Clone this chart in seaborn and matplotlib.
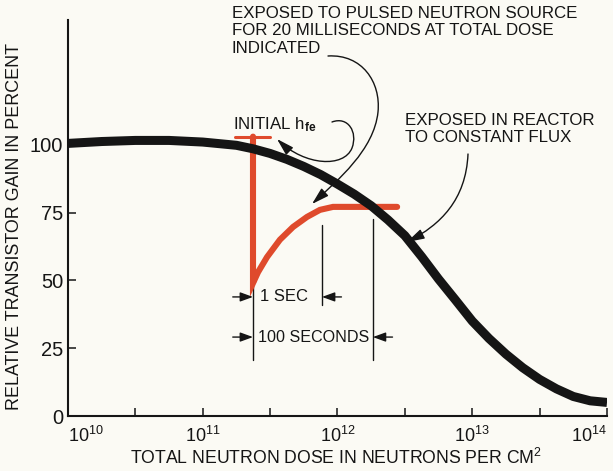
import numpy as np
import pandas as pd
import seaborn as sns
import matplotlib
matplotlib.use("Agg")
import matplotlib.pyplot as plt
from matplotlib.path import Path
from matplotlib.patches import FancyArrowPatch, ArrowStyle

# Gain of a transistor exposed to a constant reactor flux
reactor_dose = [1.0e10, 1.78e10, 3.16e10, 5.62e10, 1.0e11, 1.78e11, 2.37e11, 3.16e11,
                4.22e11, 5.62e11, 7.50e11, 1.0e12, 1.33e12, 1.78e12, 2.37e12, 3.16e12,
                4.22e12, 5.62e12, 7.50e12, 1.0e13, 1.33e13, 1.78e13, 2.37e13, 3.16e13,
                4.22e13, 5.62e13, 7.50e13, 1.0e14]
reactor_gain = [100.5, 101.2, 101.6, 101.6, 101.0, 99.8, 98.5, 96.8,
                94.6, 92.0, 89.0, 85.5, 81.8, 77.5, 72.3, 66.5,
                58.7, 50.5, 42.8, 35.0, 28.6, 22.8, 17.8, 13.5,
                10.0, 7.2, 5.6, 5.0]

# Gain after a 20 ms neutron pulse: drop and recovery
pulse_dose = [2.36e11, 2.36e11, 2.57e11, 3.0e11, 3.74e11, 4.68e11, 5.94e11, 7.41e11, 9.27e11, 2.77e12]
pulse_gain = [103.0, 49.0, 53.0, 58.6, 65.0, 69.7, 73.4, 76.0, 77.1, 77.1]

# Initial h_fe marker
initial_dose = [1.73e11, 3.16e11]
initial_gain = [103.0, 103.0]

# Time markers on the recovery curve
t_start_dose = 2.36e11
t_1sec_dose = 7.67e11
t_100sec_dose = 1.83e12

xtick_values = [1e10, 1e11, 1e12, 1e13, 1e14]
xtick_labels = [r"$10^{10}$", r"$10^{11}$", r"$10^{12}$", r"$10^{13}$", r"$10^{14}$"]
xminor_values = [3.16e10, 3.16e11, 3.16e12, 3.16e13]
ytick_values = [0, 25, 50, 75, 100]

BG = "#fbfaf4"
INK = "#151515"
RED = "#df4a2c"

sns.set_style("ticks")
plt.rcParams["font.family"] = ["Liberation Sans", "DejaVu Sans"]
plt.rcParams["mathtext.fontset"] = "custom"
plt.rcParams["mathtext.rm"] = "Liberation Sans"
plt.rcParams["mathtext.it"] = "Liberation Sans:italic"
plt.rcParams["mathtext.bf"] = "Liberation Sans:bold"
plt.rcParams["mathtext.default"] = "regular"

W, H = 613, 471
fig = plt.figure(figsize=(W / 100, H / 100), dpi=100, facecolor=BG)
ax = fig.add_axes([68 / W, 55 / H, 539 / W, 396 / H], facecolor=BG)

df_reactor = pd.DataFrame({"dose": reactor_dose, "gain": reactor_gain})
df_pulse = pd.DataFrame({"dose": pulse_dose, "gain": pulse_gain})
df_init = pd.DataFrame({"dose": initial_dose, "gain": initial_gain})

sns.lineplot(data=df_init, x="dose", y="gain", ax=ax, color=RED, lw=2.2,
             estimator=None, sort=False, zorder=3)
sns.lineplot(data=df_pulse, x="dose", y="gain", ax=ax, color=RED, lw=4.4,
             estimator=None, sort=False, zorder=3,
             solid_joinstyle="miter", solid_capstyle="round")
sns.lineplot(data=df_reactor, x="dose", y="gain", ax=ax, color=INK, lw=6.5,
             estimator=None, sort=False, zorder=4, solid_capstyle="butt",
             solid_joinstyle="round")

ax.set_xscale("log")
ax.set_xlim(1e10, 1e14)
ax.set_ylim(0, 146)

# Axes styling
sns.despine(ax=ax)
for s in ("left", "bottom"):
    ax.spines[s].set_linewidth(1.5)
    ax.spines[s].set_color(INK)

ax.set_xticks(xtick_values, xtick_labels)
ax.set_xticks(xminor_values, minor=True)
ax.xaxis.set_minor_formatter(plt.NullFormatter())
ax.tick_params(axis="x", which="both", direction="in", length=5.5, width=1.1,
               color=INK, labelsize=13, pad=7, labelcolor=INK)
ax.set_yticks(ytick_values)
ax.tick_params(axis="y", direction="in", length=6, width=1.1, color=INK,
               labelsize=14.5, pad=3.5, labelcolor=INK)
xl = ax.get_xticklabels()
xl[0].set_horizontalalignment("left")
xl[-1].set_horizontalalignment("right")

ax.set_xlabel("")
ax.set_ylabel("")
fig.text(336 / W, 1 - 458 / H, r"TOTAL NEUTRON DOSE IN NEUTRONS PER CM$^2$",
         fontsize=12.7, color=INK, ha="center", va="center")
fig.text(15 / W, 1 - 226 / H, "RELATIVE TRANSISTOR GAIN IN PERCENT",
         fontsize=12.9, color=INK, ha="center", va="center", rotation=90)

# Time dimension lines
thin = dict(color=INK, lw=1.0, zorder=2)
ax.plot([t_start_dose, t_start_dose], [20.5, 49], **thin)
ax.plot([t_1sec_dose, t_1sec_dose], [41, 70.5], **thin)
ax.plot([t_100sec_dose, t_100sec_dose], [20.5, 72.5], **thin)

dim_style = ArrowStyle("-|>", head_length=0.55, head_width=0.2)
def dim_arrow(x0, x1, y):
    ax.annotate("", xy=(x1, y), xytext=(x0, y),
                arrowprops=dict(arrowstyle=dim_style, color=INK, lw=1.0,
                                mutation_scale=14, shrinkA=0, shrinkB=0))

y1, y100 = 43.9, 29.1
dim_arrow(1.67e11, t_start_dose, y1)
dim_arrow(1.07e12, t_1sec_dose, y1)
dim_arrow(1.67e11, t_start_dose, y100)
dim_arrow(2.56e12, t_100sec_dose, y100)
ax.text(4.0e11, y1, "1 SEC", fontsize=12, color=INK, ha="center", va="center")
ax.text(6.6e11, y100, "100 SECONDS", fontsize=11.6, color=INK, ha="center", va="center")

# Annotations (positions in axes fraction, from pixel layout)
def af(px, py):
    return ((px - 68) / 539, (416 - py) / 396)

ax.text(*af(232, 6), "EXPOSED TO PULSED NEUTRON SOURCE\nFOR 20 MILLISECONDS AT TOTAL DOSE\nINDICATED",
        transform=ax.transAxes, fontsize=12.2, color=INK, ha="left", va="top",
        linespacing=1.2, clip_on=False)
ax.text(*af(233, 129), r"INITIAL h$_{\mathbf{fe}}$", transform=ax.transAxes,
        fontsize=12.2, color=INK, ha="left", va="baseline", clip_on=False)
ax.text(*af(405, 113), "EXPOSED IN REACTOR\nTO CONSTANT FLUX",
        transform=ax.transAxes, fontsize=12.2, color=INK, ha="left", va="top",
        linespacing=1.2, clip_on=False)

curve_style = ArrowStyle("-|>", head_length=0.75, head_width=0.22)
def curved_arrow(points, codes):
    verts = [af(*p) for p in points]
    patch = FancyArrowPatch(path=Path(verts, codes), arrowstyle=curve_style,
                            mutation_scale=14, color=INK, lw=1.0,
                            transform=ax.transAxes, zorder=5, clip_on=False)
    ax.add_patch(patch)

C4 = Path.CURVE4
curved_arrow([(328, 56), (362, 54), (381, 82), (378, 112),
              (374, 150), (338, 180), (312, 204)],
             [Path.MOVETO, C4, C4, C4, C4, C4, C4])
curved_arrow([(332, 122), (348, 116), (358, 132), (352, 148),
              (344, 168), (305, 166), (277, 139)],
             [Path.MOVETO, C4, C4, C4, C4, C4, C4])
curved_arrow([(468, 154), (466, 200), (440, 225), (407, 242)],
             [Path.MOVETO, C4, C4, C4])

fig.savefig("out.png", dpi=100, facecolor=BG)
